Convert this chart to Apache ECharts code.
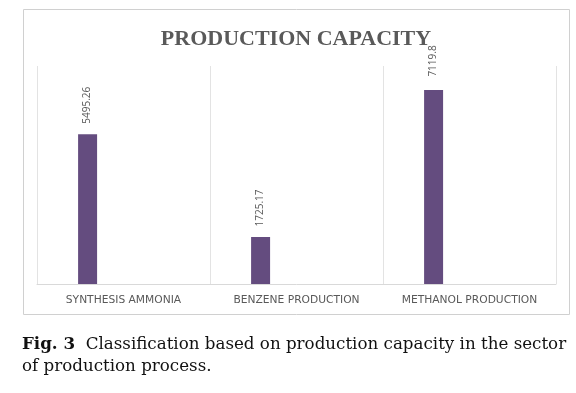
<!DOCTYPE html>
<html>
<head>
<meta charset="utf-8">
<script src="https://cdn.jsdelivr.net/npm/echarts@6/dist/echarts.min.js"></script>
<style>
  html, body { margin: 0; padding: 0; background: #ffffff; }
  #chart { width: 576px; height: 393px; }
</style>
</head>
<body>
<div id="chart"></div>
<script>
const categories = ['SYNTHESIS AMMONIA', 'BENZENE PRODUCTION', 'METHANOL PRODUCTION'];
const capacityValues = [5495.26, 1725.17, 7119.8];
const emptySeriesA = [null, null, null];
const emptySeriesB = [null, null, null];
const chartTitle = 'PRODUCTION CAPACITY';
const captionBold = 'Fig. 3';
const captionLine1 = 'Classification based on production capacity in the sector';
const captionLine2 = 'of production process.';

const chart = echarts.init(document.getElementById('chart'), null, { renderer: 'canvas' });

const grey = '#595959';
const barColor = '#644C7F';

chart.setOption({
  animation: false,
  backgroundColor: '#ffffff',
  grid: { left: 37, right: 20, top: 66, bottom: 109, containLabel: false },
  xAxis: {
    type: 'category',
    data: categories,
    boundaryGap: true,
    axisLine: { show: true, lineStyle: { color: '#d9d9d9', width: 1 } },
    axisTick: { show: false },
    splitLine: { show: true, lineStyle: { color: '#e3e3e3', width: 1 } },
    axisLabel: {
      color: grey,
      fontFamily: 'DejaVu Sans',
      fontSize: 10.7,
      margin: 11,
      interval: 0
    }
  },
  yAxis: {
    type: 'value',
    min: 0,
    max: 8000,
    show: false,
    splitLine: { show: false }
  },
  series: [
    {
      type: 'bar',
      data: capacityValues,
      barWidth: 19,
      barGap: '89%',
      itemStyle: { color: barColor },
      label: {
        show: true,
        position: 'top',
        distance: 29,
        rotate: 90,
        align: 'center',
        verticalAlign: 'middle',
        color: grey,
        fontFamily: 'Open Sans',
        fontSize: 10,
        formatter: function (p) { return String(p.value); }
      }
    },
    { type: 'bar', data: emptySeriesA, barWidth: 19, barGap: '89%', itemStyle: { color: barColor } },
    { type: 'bar', data: emptySeriesB, barWidth: 19, barGap: '89%', itemStyle: { color: barColor } }
  ],
  graphic: [
    {
      type: 'rect',
      shape: { x: 23.5, y: 9.5, width: 546, height: 305 },
      style: { fill: 'none', stroke: '#d0d0d0', lineWidth: 1 },
      silent: true,
      z: -1
    },
    {
      type: 'text',
      x: 296,
      y: 39,
      style: {
        text: chartTitle,
        fill: grey,
        font: 'bold 22px "Liberation Serif"',
        align: 'center',
        verticalAlign: 'middle'
      }
    },
    {
      type: 'text',
      x: 22,
      y: 345,
      style: {
        text: '{b|' + captionBold + '}{r|  ' + captionLine1 + '}',
        verticalAlign: 'middle',
        rich: {
          b: { font: 'bold 16.7px "DejaVu Serif"', fill: '#111111' },
          r: { font: '16.7px "DejaVu Serif"', fill: '#111111' }
        }
      }
    },
    {
      type: 'text',
      x: 22,
      y: 367,
      style: {
        text: captionLine2,
        font: '16.7px "DejaVu Serif"',
        fill: '#111111',
        verticalAlign: 'middle'
      }
    }
  ]
});
</script>
</body>
</html>
